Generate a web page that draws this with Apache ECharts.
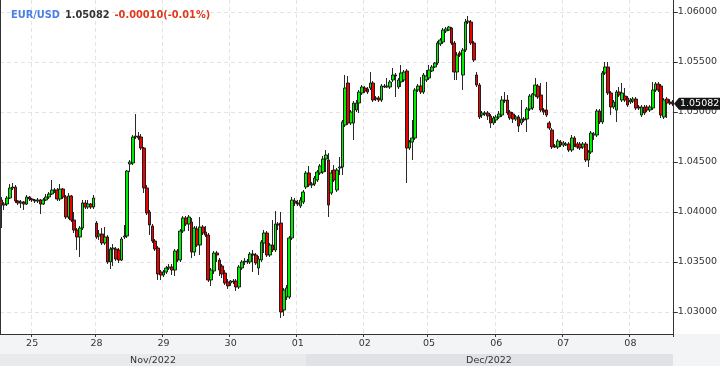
<!DOCTYPE html>
<html><head><meta charset="utf-8">
<script src="https://cdn.jsdelivr.net/npm/echarts@6/dist/echarts.min.js"></script>
<style>html,body{margin:0;padding:0;background:#fff}#c{width:720px;height:366px}</style>
</head><body><div id="c"></div>
<script>
// Hourly EUR/USD candles, each row = [open, close, low, high]
const dayLabels = ['24','25','28','29','30','01','02','05','06','07','08'];
const d24 = [[1.0412,1.0407,1.0384,1.0415],[1.0407,1.0408,1.0402,1.0410],[1.0408,1.0414,1.0406,1.0416],[1.0414,1.0424,1.0413,1.0428],[1.0424,1.0425,1.0422,1.0429],[1.0425,1.0411,1.0409,1.0427],[1.0411,1.0409,1.0407,1.0412],[1.0409,1.0410,1.0404,1.0412],[1.0410,1.0408,1.0402,1.0411],[1.0408,1.0415,1.0407,1.0417],[1.0415,1.0413,1.0411,1.0416]];
const d25 = [[1.0413,1.0412,1.0410,1.0414],[1.0412,1.0411,1.0409,1.0413],[1.0411,1.0412,1.0409,1.0414],[1.0412,1.0408,1.0398,1.0413],[1.0408,1.0412,1.0407,1.0414],[1.0412,1.0415,1.0411,1.0418],[1.0415,1.0418,1.0413,1.0420],[1.0418,1.0422,1.0417,1.0432],[1.0422,1.0422,1.0419,1.0424],[1.0422,1.0413,1.0411,1.0424],[1.0413,1.0423,1.0411,1.0428],[1.0423,1.0415,1.0413,1.0424],[1.0415,1.0395,1.0393,1.0417],[1.0395,1.0416,1.0393,1.0419],[1.0416,1.0392,1.0390,1.0417],[1.0392,1.0382,1.0379,1.0400],[1.0382,1.0375,1.0362,1.0384],[1.0375,1.0384,1.0355,1.0386],[1.0384,1.0409,1.0382,1.0412],[1.0409,1.0405,1.0403,1.0412],[1.0405,1.0408,1.0403,1.0412],[1.0408,1.0405,1.0403,1.0409],[1.0405,1.0414,1.0403,1.0417]];
const d28 = [[1.0389,1.0375,1.0373,1.0391],[1.0376,1.0378,1.0372,1.0382],[1.0378,1.0369,1.0367,1.0384],[1.0369,1.0375,1.0367,1.0385],[1.0375,1.0350,1.0348,1.0377],[1.0350,1.0363,1.0343,1.0365],[1.0363,1.0364,1.0346,1.0368],[1.0363,1.0353,1.0351,1.0365],[1.0362,1.0352,1.0349,1.0364],[1.0352,1.0373,1.0351,1.0375],[1.0375,1.0376,1.0373,1.0387],[1.0376,1.0441,1.0374,1.0442],[1.0448,1.0450,1.0440,1.0452],[1.0449,1.0475,1.0447,1.0477],[1.0475,1.0476,1.0473,1.0498],[1.0476,1.0474,1.0472,1.0480],[1.0475,1.0464,1.0462,1.0478],[1.0464,1.0424,1.0419,1.0465],[1.0424,1.0399,1.0397,1.0427],[1.0400,1.0387,1.0377,1.0402],[1.0386,1.0371,1.0369,1.0388],[1.0371,1.0363,1.0361,1.0373],[1.0364,1.0338,1.0332,1.0366],[1.0340,1.0337,1.0332,1.0342]];
const d29 = [[1.0337,1.0340,1.0335,1.0342],[1.0340,1.0344,1.0338,1.0346],[1.0344,1.0345,1.0342,1.0348],[1.0345,1.0342,1.0337,1.0348],[1.0342,1.0361,1.0336,1.0363],[1.0361,1.0352,1.0350,1.0363],[1.0352,1.0381,1.0350,1.0383],[1.0381,1.0394,1.0379,1.0396],[1.0394,1.0388,1.0386,1.0396],[1.0388,1.0395,1.0381,1.0397],[1.0390,1.0360,1.0354,1.0394],[1.0360,1.0384,1.0356,1.0386],[1.0383,1.0367,1.0365,1.0386],[1.0367,1.0385,1.0357,1.0395],[1.0385,1.0379,1.0377,1.0387],[1.0380,1.0377,1.0375,1.0386],[1.0377,1.0332,1.0330,1.0379],[1.0332,1.0342,1.0326,1.0344],[1.0341,1.0359,1.0338,1.0361],[1.0359,1.0357,1.0350,1.0361],[1.0352,1.0342,1.0336,1.0354],[1.0346,1.0338,1.0334,1.0348],[1.0339,1.0329,1.0327,1.0342],[1.0330,1.0326,1.0323,1.0333]];
const d30 = [[1.0329,1.0331,1.0326,1.0332],[1.0331,1.0330,1.0328,1.0333],[1.0331,1.0325,1.0321,1.0333],[1.0325,1.0345,1.0323,1.0347],[1.0344,1.0350,1.0342,1.0352],[1.0350,1.0351,1.0347,1.0354],[1.0351,1.0350,1.0348,1.0353],[1.0350,1.0358,1.0348,1.0360],[1.0358,1.0357,1.0340,1.0362],[1.0357,1.0349,1.0347,1.0359],[1.0344,1.0353,1.0337,1.0356],[1.0352,1.0370,1.0350,1.0372],[1.0369,1.0379,1.0359,1.0382],[1.0379,1.0357,1.0355,1.0381],[1.0357,1.0367,1.0355,1.0369],[1.0367,1.0362,1.0360,1.0392],[1.0362,1.0388,1.0360,1.0401],[1.0388,1.0387,1.0382,1.0390],[1.0389,1.0300,1.0294,1.0400],[1.0302,1.0322,1.0296,1.0324],[1.0315,1.0324,1.0312,1.0327],[1.0315,1.0374,1.0313,1.0376],[1.0374,1.0412,1.0372,1.0415],[1.0411,1.0409,1.0406,1.0414]];
const d01 = [[1.0409,1.0408,1.0406,1.0412],[1.0406,1.0412,1.0404,1.0415],[1.0410,1.0420,1.0408,1.0422],[1.0425,1.0439,1.0423,1.0441],[1.0439,1.0427,1.0425,1.0446],[1.0427,1.0428,1.0424,1.0430],[1.0428,1.0434,1.0426,1.0436],[1.0432,1.0440,1.0430,1.0442],[1.0439,1.0446,1.0437,1.0448],[1.0440,1.0453,1.0438,1.0456],[1.0453,1.0457,1.0440,1.0462],[1.0452,1.0407,1.0395,1.0459],[1.0419,1.0439,1.0417,1.0442],[1.0442,1.0432,1.0430,1.0447],[1.0422,1.0442,1.0420,1.0444],[1.0444,1.0445,1.0437,1.0455],[1.0445,1.0490,1.0437,1.0492],[1.0487,1.0524,1.0485,1.0537],[1.0529,1.0489,1.0487,1.0536],[1.0489,1.0500,1.0487,1.0502],[1.0489,1.0509,1.0472,1.0511],[1.0502,1.0509,1.0500,1.0512],[1.0509,1.0520,1.0499,1.0522],[1.0519,1.0525,1.0517,1.0527]];
const d02 = [[1.0524,1.0521,1.0519,1.0526],[1.0523,1.0520,1.0518,1.0525],[1.0524,1.0529,1.0522,1.0540],[1.0529,1.0512,1.0510,1.0531],[1.0514,1.0513,1.0511,1.0516],[1.0514,1.0512,1.0510,1.0516],[1.0512,1.0526,1.0510,1.0528],[1.0526,1.0525,1.0524,1.0528],[1.0525,1.0526,1.0524,1.0534],[1.0525,1.0530,1.0523,1.0532],[1.0532,1.0537,1.0530,1.0544],[1.0537,1.0536,1.0515,1.0539],[1.0525,1.0532,1.0523,1.0534],[1.0530,1.0539,1.0525,1.0547],[1.0532,1.0540,1.0530,1.0542],[1.0541,1.0464,1.0429,1.0543],[1.0464,1.0470,1.0462,1.0472],[1.0470,1.0474,1.0452,1.0492],[1.0474,1.0522,1.0472,1.0524],[1.0522,1.0526,1.0520,1.0528],[1.0526,1.0520,1.0518,1.0535],[1.0520,1.0537,1.0518,1.0539],[1.0532,1.0536,1.0530,1.0542]];
const d05 = [[1.0534,1.0542,1.0532,1.0547],[1.0541,1.0545,1.0540,1.0547],[1.0545,1.0549,1.0544,1.0550],[1.0549,1.0569,1.0547,1.0571],[1.0568,1.0572,1.0566,1.0574],[1.0570,1.0582,1.0568,1.0584],[1.0581,1.0583,1.0579,1.0585],[1.0582,1.0585,1.0581,1.0586],[1.0584,1.0569,1.0567,1.0585],[1.0569,1.0540,1.0532,1.0571],[1.0540,1.0557,1.0532,1.0560],[1.0559,1.0557,1.0555,1.0561],[1.0537,1.0562,1.0522,1.0564],[1.0562,1.0590,1.0560,1.0593],[1.0590,1.0591,1.0588,1.0596],[1.0590,1.0569,1.0567,1.0592],[1.0569,1.0552,1.0550,1.0571],[1.0537,1.0527,1.0525,1.0540],[1.0527,1.0495,1.0493,1.0529],[1.0497,1.0499,1.0494,1.0501],[1.0498,1.0499,1.0496,1.0501],[1.0499,1.0496,1.0492,1.0501],[1.0496,1.0489,1.0484,1.0498],[1.0489,1.0494,1.0487,1.0496]];
const d06 = [[1.0492,1.0495,1.0489,1.0497],[1.0495,1.0498,1.0493,1.0501],[1.0497,1.0512,1.0495,1.0516],[1.0512,1.0511,1.0509,1.0520],[1.0512,1.0499,1.0497,1.0517],[1.0500,1.0494,1.0492,1.0502],[1.0498,1.0493,1.0489,1.0500],[1.0493,1.0495,1.0491,1.0497],[1.0495,1.0486,1.0480,1.0497],[1.0489,1.0493,1.0487,1.0512],[1.0493,1.0492,1.0490,1.0495],[1.0493,1.0503,1.0480,1.0505],[1.0503,1.0516,1.0501,1.0518],[1.0504,1.0518,1.0502,1.0519],[1.0517,1.0527,1.0515,1.0534],[1.0526,1.0515,1.0513,1.0528],[1.0517,1.0502,1.0500,1.0529],[1.0502,1.0500,1.0497,1.0504],[1.0502,1.0497,1.0495,1.0530],[1.0489,1.0484,1.0482,1.0491],[1.0482,1.0465,1.0463,1.0484],[1.0466,1.0465,1.0464,1.0468],[1.0465,1.0471,1.0463,1.0473],[1.0470,1.0467,1.0465,1.0472]];
const d07 = [[1.0467,1.0469,1.0465,1.0471],[1.0467,1.0468,1.0466,1.0470],[1.0468,1.0462,1.0460,1.0470],[1.0462,1.0474,1.0460,1.0477],[1.0474,1.0467,1.0465,1.0476],[1.0468,1.0465,1.0463,1.0470],[1.0468,1.0464,1.0462,1.0470],[1.0465,1.0468,1.0463,1.0470],[1.0468,1.0452,1.0450,1.0470],[1.0452,1.0460,1.0445,1.0462],[1.0460,1.0479,1.0458,1.0481],[1.0477,1.0478,1.0472,1.0480],[1.0477,1.0501,1.0475,1.0503],[1.0501,1.0490,1.0488,1.0503],[1.0490,1.0539,1.0488,1.0541],[1.0539,1.0545,1.0537,1.0550],[1.0545,1.0519,1.0517,1.0550],[1.0519,1.0505,1.0497,1.0521],[1.0505,1.0510,1.0503,1.0512],[1.0502,1.0520,1.0490,1.0522],[1.0520,1.0517,1.0515,1.0525],[1.0512,1.0519,1.0510,1.0529],[1.0516,1.0512,1.0510,1.0524],[1.0514,1.0507,1.0505,1.0516]];
const d08 = [[1.0510,1.0512,1.0508,1.0514],[1.0511,1.0513,1.0509,1.0515],[1.0513,1.0504,1.0502,1.0515],[1.0505,1.0504,1.0502,1.0507],[1.0497,1.0505,1.0495,1.0507],[1.0505,1.0499,1.0497,1.0507],[1.0505,1.0502,1.0500,1.0507],[1.0502,1.0505,1.0500,1.0507],[1.0504,1.0522,1.0502,1.0530],[1.0522,1.0528,1.0520,1.0530],[1.0528,1.0522,1.0520,1.0530],[1.0526,1.0497,1.0494,1.0528],[1.0495,1.0512,1.0493,1.0514],[1.0513,1.0509,1.0494,1.0515],[1.0509,1.0510,1.0507,1.0513],[1.0510,1.05082,1.0506,1.0512]];
const yTicks = [1.03,1.035,1.04,1.045,1.05,1.055,1.06];
const monthLabels = ['Nov/2022','Dec/2022'];
const symbol = 'EUR/USD';
const lastPrice = 1.05082;
const change = '-0.00010(-0.01%)';

const days = [d24,d25,d28,d29,d30,d01,d02,d05,d06,d07,d08];
const categories = [], candles = [], dayStart = new Set();
days.forEach((d, k) => {
  if (k > 0) dayStart.add(candles.length);
  d.forEach((row, h) => { categories.push(dayLabels[k] + '|' + h); candles.push(row); });
});
const F = 'DejaVu Sans';
const chart = echarts.init(document.getElementById('c'), null, {renderer: 'canvas'});
const showDay = (i) => dayStart.has(i);
chart.setOption({
  animation: false,
  backgroundColor: '#fff',
  title: {
    left: 6, top: 1,
    text: '{a|' + symbol + '} {b|' + lastPrice.toFixed(5) + '} {c|' + change + '}',
    textStyle: { rich: {
      a: {color: '#4a80e4', fontFamily: F, fontWeight: 'bold', fontSize: 9.8},
      b: {color: '#333', fontFamily: F, fontWeight: 'bold', fontSize: 9.8},
      c: {color: '#e03a1c', fontFamily: F, fontWeight: 'bold', fontSize: 9.8}
    }}
  },
  grid: {left: 0, right: 46, top: 0, bottom: 32},
  xAxis: {
    type: 'category', data: categories, boundaryGap: true,
    axisLine: {lineStyle: {color: '#333'}},
    axisTick: {show: true, interval: showDay, length: 3, lineStyle: {color: '#333'}},
    axisLabel: {interval: showDay, formatter: v => v.split('|')[0], color: '#333', fontFamily: F, fontSize: 9.5, margin: 5},
    splitLine: {show: true, interval: showDay, lineStyle: {color: '#e4e4e4', type: [4, 3]}}
  },
  yAxis: {
    type: 'value', position: 'right', min: 1.0278, max: 1.0612, scale: true,
    axisLine: {show: true, lineStyle: {color: '#333'}},
    axisTick: {show: true, length: 4, customValues: yTicks, lineStyle: {color: '#333'}},
    axisLabel: {customValues: yTicks, formatter: v => v.toFixed(5), color: '#333', fontFamily: F, fontSize: 9.5, margin: 4},
    splitLine: {show: true, lineStyle: {color: '#e4e4e4', type: [4, 3]}}
  },
  series: [{
    type: 'candlestick', data: candles, barWidth: 3.2,
    itemStyle: {color: '#00ee00', color0: '#ee0000', borderColor: '#111', borderColor0: '#111', borderWidth: 0.9}
  }]
});
const yPix = chart.convertToPixel({yAxisIndex: 0}, lastPrice);
const gr = [
  {type: 'rect', z: -10, shape: {x: 0, y: 334, width: 720, height: 32}, style: {fill: '#f3f4f6'}},
  {type: 'rect', z: -9, shape: {x: 0, y: 354, width: 306, height: 12}, style: {fill: '#e9eaec'}},
  {type: 'rect', z: -9, shape: {x: 306, y: 354, width: 367, height: 12}, style: {fill: '#e1e2e5'}},
  {type: 'text', z: 5, x: 153, y: 361, style: {text: monthLabels[0], fill: '#333', font: '9.5px "' + F + '"', align: 'center', verticalAlign: 'middle'}},
  {type: 'text', z: 5, x: 489, y: 361, style: {text: monthLabels[1], fill: '#333', font: '9.5px "' + F + '"', align: 'center', verticalAlign: 'middle'}},
  {type: 'line', z: 5, shape: {x1: 0.5, y1: 0, x2: 0.5, y2: 334}, style: {stroke: '#333', lineWidth: 1}},
  {type: 'polygon', z: 50, shape: {points: [[674, yPix], [679, yPix - 6], [720, yPix - 6], [720, yPix + 6], [679, yPix + 6]]}, style: {fill: '#151515'}},
  {type: 'text', z: 51, x: 680, y: yPix, style: {text: lastPrice.toFixed(5), fill: '#fff', font: '9.5px "' + F + '"', verticalAlign: 'middle'}}
];
chart.setOption({graphic: gr});
</script></body></html>
